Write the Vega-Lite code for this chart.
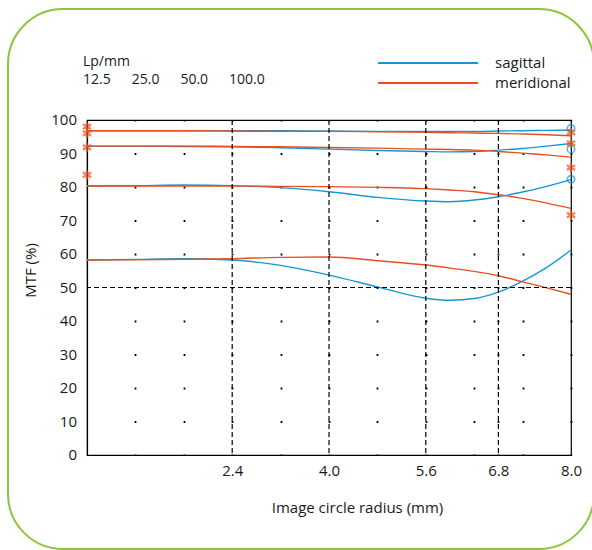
{
  "$schema": "https://vega.github.io/schema/vega-lite/v6.json",
  "width": 484,
  "height": 335,
  "autosize": {"type": "none"},
  "padding": {"left": 87, "top": 120, "right": 21, "bottom": 95},
  "background": "white",
  "config": {
    "font": "Open Sans",
    "view": {"stroke": "#000", "strokeWidth": 1.2},
    "axis": {"labelFont": "Open Sans", "titleFont": "Open Sans", "labelColor": "#1a1a1a", "titleColor": "#1a1a1a", "titleFontWeight": "normal", "labelFontSize": 15, "titleFontSize": 15, "domainColor": "#000", "domainWidth": 1.2, "ticks": false, "labelFlush": false}
  },
  "title": {
    "text": "Lp/mm",
    "subtitle": "12.5\u2003\u200225.0\u2003\u200250.0\u2003\u2002100.0",
    "anchor": "start",
    "frame": "group",
    "font": "Open Sans",
    "subtitleFont": "Open Sans",
    "fontSize": 14,
    "subtitleFontSize": 14,
    "fontWeight": "normal",
    "color": "#1a1a1a",
    "subtitleColor": "#1a1a1a",
    "subtitlePadding": 4,
    "dx": -4,
    "dy": 82.5
  },
  "datasets": {
    "curves": [
      {"f": "12.5", "t": "sagittal", "x": 0, "y": 96.8}, {"f": "12.5", "t": "sagittal", "x": 0.8, "y": 96.8}, {"f": "12.5", "t": "sagittal", "x": 1.6, "y": 96.8}, {"f": "12.5", "t": "sagittal", "x": 2.4, "y": 96.8}, {"f": "12.5", "t": "sagittal", "x": 3.2, "y": 96.8}, {"f": "12.5", "t": "sagittal", "x": 4.0, "y": 96.7}, {"f": "12.5", "t": "sagittal", "x": 4.8, "y": 96.6}, {"f": "12.5", "t": "sagittal", "x": 5.6, "y": 96.6}, {"f": "12.5", "t": "sagittal", "x": 6.0, "y": 96.6}, {"f": "12.5", "t": "sagittal", "x": 6.4, "y": 96.6}, {"f": "12.5", "t": "sagittal", "x": 6.8, "y": 96.7}, {"f": "12.5", "t": "sagittal", "x": 7.2, "y": 96.8}, {"f": "12.5", "t": "sagittal", "x": 7.6, "y": 96.9}, {"f": "12.5", "t": "sagittal", "x": 8.0, "y": 97.0},
      {"f": "12.5", "t": "meridional", "x": 0, "y": 96.8}, {"f": "12.5", "t": "meridional", "x": 0.8, "y": 96.8}, {"f": "12.5", "t": "meridional", "x": 1.6, "y": 96.8}, {"f": "12.5", "t": "meridional", "x": 2.4, "y": 96.7}, {"f": "12.5", "t": "meridional", "x": 3.2, "y": 96.6}, {"f": "12.5", "t": "meridional", "x": 4.0, "y": 96.6}, {"f": "12.5", "t": "meridional", "x": 4.8, "y": 96.5}, {"f": "12.5", "t": "meridional", "x": 5.6, "y": 96.3}, {"f": "12.5", "t": "meridional", "x": 6.0, "y": 96.2}, {"f": "12.5", "t": "meridional", "x": 6.4, "y": 96.1}, {"f": "12.5", "t": "meridional", "x": 6.8, "y": 96.0}, {"f": "12.5", "t": "meridional", "x": 7.2, "y": 95.8}, {"f": "12.5", "t": "meridional", "x": 7.6, "y": 95.6}, {"f": "12.5", "t": "meridional", "x": 8.0, "y": 95.3},
      {"f": "25.0", "t": "sagittal", "x": 0, "y": 92.2}, {"f": "25.0", "t": "sagittal", "x": 0.8, "y": 92.2}, {"f": "25.0", "t": "sagittal", "x": 1.6, "y": 92.1}, {"f": "25.0", "t": "sagittal", "x": 2.4, "y": 92.0}, {"f": "25.0", "t": "sagittal", "x": 3.2, "y": 91.7}, {"f": "25.0", "t": "sagittal", "x": 4.0, "y": 91.3}, {"f": "25.0", "t": "sagittal", "x": 4.8, "y": 90.9}, {"f": "25.0", "t": "sagittal", "x": 5.6, "y": 90.6}, {"f": "25.0", "t": "sagittal", "x": 6.0, "y": 90.5}, {"f": "25.0", "t": "sagittal", "x": 6.4, "y": 90.6}, {"f": "25.0", "t": "sagittal", "x": 6.8, "y": 91.0}, {"f": "25.0", "t": "sagittal", "x": 7.2, "y": 91.5}, {"f": "25.0", "t": "sagittal", "x": 7.6, "y": 92.2}, {"f": "25.0", "t": "sagittal", "x": 8.0, "y": 93.0},
      {"f": "25.0", "t": "meridional", "x": 0, "y": 92.2}, {"f": "25.0", "t": "meridional", "x": 0.8, "y": 92.2}, {"f": "25.0", "t": "meridional", "x": 1.6, "y": 92.2}, {"f": "25.0", "t": "meridional", "x": 2.4, "y": 92.1}, {"f": "25.0", "t": "meridional", "x": 3.2, "y": 92.0}, {"f": "25.0", "t": "meridional", "x": 4.0, "y": 91.8}, {"f": "25.0", "t": "meridional", "x": 4.8, "y": 91.6}, {"f": "25.0", "t": "meridional", "x": 5.6, "y": 91.3}, {"f": "25.0", "t": "meridional", "x": 6.0, "y": 91.2}, {"f": "25.0", "t": "meridional", "x": 6.4, "y": 91.0}, {"f": "25.0", "t": "meridional", "x": 6.8, "y": 90.6}, {"f": "25.0", "t": "meridional", "x": 7.2, "y": 90.1}, {"f": "25.0", "t": "meridional", "x": 7.6, "y": 89.6}, {"f": "25.0", "t": "meridional", "x": 8.0, "y": 88.9},
      {"f": "50.0", "t": "sagittal", "x": 0, "y": 80.3}, {"f": "50.0", "t": "sagittal", "x": 0.8, "y": 80.4}, {"f": "50.0", "t": "sagittal", "x": 1.6, "y": 80.6}, {"f": "50.0", "t": "sagittal", "x": 2.4, "y": 80.4}, {"f": "50.0", "t": "sagittal", "x": 3.2, "y": 79.8}, {"f": "50.0", "t": "sagittal", "x": 4.0, "y": 78.6}, {"f": "50.0", "t": "sagittal", "x": 4.8, "y": 76.9}, {"f": "50.0", "t": "sagittal", "x": 5.6, "y": 75.8}, {"f": "50.0", "t": "sagittal", "x": 6.0, "y": 75.6}, {"f": "50.0", "t": "sagittal", "x": 6.4, "y": 76.1}, {"f": "50.0", "t": "sagittal", "x": 6.8, "y": 77.1}, {"f": "50.0", "t": "sagittal", "x": 7.2, "y": 78.5}, {"f": "50.0", "t": "sagittal", "x": 7.6, "y": 80.2}, {"f": "50.0", "t": "sagittal", "x": 8.0, "y": 82.2},
      {"f": "50.0", "t": "meridional", "x": 0, "y": 80.3}, {"f": "50.0", "t": "meridional", "x": 0.8, "y": 80.3}, {"f": "50.0", "t": "meridional", "x": 1.6, "y": 80.3}, {"f": "50.0", "t": "meridional", "x": 2.4, "y": 80.3}, {"f": "50.0", "t": "meridional", "x": 3.2, "y": 80.2}, {"f": "50.0", "t": "meridional", "x": 4.0, "y": 80.1}, {"f": "50.0", "t": "meridional", "x": 4.8, "y": 79.9}, {"f": "50.0", "t": "meridional", "x": 5.6, "y": 79.5}, {"f": "50.0", "t": "meridional", "x": 6.0, "y": 79.1}, {"f": "50.0", "t": "meridional", "x": 6.4, "y": 78.6}, {"f": "50.0", "t": "meridional", "x": 6.8, "y": 77.7}, {"f": "50.0", "t": "meridional", "x": 7.2, "y": 76.6}, {"f": "50.0", "t": "meridional", "x": 7.6, "y": 75.2}, {"f": "50.0", "t": "meridional", "x": 8.0, "y": 73.6},
      {"f": "100.0", "t": "sagittal", "x": 0, "y": 58.2}, {"f": "100.0", "t": "sagittal", "x": 0.8, "y": 58.4}, {"f": "100.0", "t": "sagittal", "x": 1.6, "y": 58.6}, {"f": "100.0", "t": "sagittal", "x": 2.4, "y": 58.2}, {"f": "100.0", "t": "sagittal", "x": 3.2, "y": 56.6}, {"f": "100.0", "t": "sagittal", "x": 4.0, "y": 53.7}, {"f": "100.0", "t": "sagittal", "x": 4.8, "y": 50.2}, {"f": "100.0", "t": "sagittal", "x": 5.6, "y": 46.8}, {"f": "100.0", "t": "sagittal", "x": 6.0, "y": 46.2}, {"f": "100.0", "t": "sagittal", "x": 6.4, "y": 46.7}, {"f": "100.0", "t": "sagittal", "x": 6.8, "y": 48.6}, {"f": "100.0", "t": "sagittal", "x": 7.2, "y": 51.9}, {"f": "100.0", "t": "sagittal", "x": 7.6, "y": 56.0}, {"f": "100.0", "t": "sagittal", "x": 8.0, "y": 61.2},
      {"f": "100.0", "t": "meridional", "x": 0, "y": 58.2}, {"f": "100.0", "t": "meridional", "x": 0.8, "y": 58.3}, {"f": "100.0", "t": "meridional", "x": 1.6, "y": 58.4}, {"f": "100.0", "t": "meridional", "x": 2.4, "y": 58.6}, {"f": "100.0", "t": "meridional", "x": 3.2, "y": 59.0}, {"f": "100.0", "t": "meridional", "x": 4.0, "y": 59.1}, {"f": "100.0", "t": "meridional", "x": 4.8, "y": 58.0}, {"f": "100.0", "t": "meridional", "x": 5.6, "y": 56.7}, {"f": "100.0", "t": "meridional", "x": 6.0, "y": 55.8}, {"f": "100.0", "t": "meridional", "x": 6.4, "y": 54.8}, {"f": "100.0", "t": "meridional", "x": 6.8, "y": 53.5}, {"f": "100.0", "t": "meridional", "x": 7.2, "y": 51.7}, {"f": "100.0", "t": "meridional", "x": 7.6, "y": 49.9}, {"f": "100.0", "t": "meridional", "x": 8.0, "y": 48.0}
    ],
    "stars": [
      {"x": 0, "y": 98.0}, {"x": 0, "y": 96.0}, {"x": 0, "y": 91.8}, {"x": 0, "y": 83.6},
      {"x": 8, "y": 96.3}, {"x": 8, "y": 93.0}, {"x": 8, "y": 85.8}, {"x": 8, "y": 71.6}
    ],
    "circles": [
      {"x": 8, "y": 97.5}, {"x": 8, "y": 91.3}, {"x": 8, "y": 82.3}
    ],
    "yticks": [{"v": 0}, {"v": 10}, {"v": 20}, {"v": 30}, {"v": 40}, {"v": 50}, {"v": 60}, {"v": 70}, {"v": 80}, {"v": 90}, {"v": 100}],
    "vlines": [{"x": 2.4}, {"x": 4.0}, {"x": 5.6}, {"x": 6.8}],
    "hlines": [{"y": 50}]
  },
  "layer": [
    {
      "data": {"name": "curves"},
      "transform": [{"filter": "datum.t == 'sagittal'"}],
      "mark": {"type": "line", "interpolate": "monotone", "strokeWidth": 1.4},
      "encoding": {
        "x": {
          "field": "x", "type": "quantitative",
          "scale": {"domain": [0, 8], "nice": false, "zero": false},
          "axis": {
            "title": "Image circle radius (mm)",
            "values": [0.8, 1.6, 2.4, 3.2, 4.0, 4.8, 5.6, 6.4, 6.8, 7.2, 8.0],
            "labelExpr": "(datum.value == 2.4 || datum.value == 4 || datum.value == 5.6 || datum.value == 6.8 || datum.value == 8) ? format(datum.value, '.1f') : ''",
            "labelOverlap": false,
            "grid": true, "gridColor": "#000", "gridWidth": 1.8, "gridDash": [1.8, 31.7], "gridDashOffset": 0.9, "gridOpacity": 1,
            "labelPadding": 8,
            "titleX": 270, "titleY": 52, "titleBaseline": "middle", "titleAlign": "center"
          }
        },
        "y": {
          "field": "y", "type": "quantitative",
          "scale": {"domain": [0, 100], "nice": false},
          "axis": {
            "title": "MTF (%)",
            "labels": false,
            "grid": false,
            "titleX": -57, "titleY": 150, "titleBaseline": "middle", "titleAlign": "center", "titleAngle": -90
          }
        },
        "color": {
          "field": "t", "type": "nominal",
          "scale": {"domain": ["sagittal", "meridional"], "range": ["#1796d4", "#e9501e"]},
          "legend": {
            "orient": "none", "legendX": 331, "legendY": -67, "title": null,
            "symbolType": "M-5.556,0H5.556", "symbolSize": 324, "symbolStrokeWidth": 2,
            "labelFontSize": 15, "labelFont": "Open Sans", "labelColor": "#1a1a1a", "labelOffset": 57,
            "rowPadding": 2, "padding": 0
          }
        },
        "detail": {"field": "f", "type": "nominal"}
      }
    },
    {
      "data": {"name": "curves"},
      "transform": [{"filter": "datum.t == 'meridional'"}],
      "mark": {"type": "line", "interpolate": "monotone", "strokeWidth": 1.4},
      "encoding": {
        "x": {"field": "x", "type": "quantitative"},
        "y": {"field": "y", "type": "quantitative"},
        "color": {"field": "t", "type": "nominal"},
        "detail": {"field": "f", "type": "nominal"}
      }
    },
    {
      "data": {"name": "vlines"},
      "mark": {"type": "rule", "color": "#000", "strokeWidth": 1.2, "strokeDash": [5, 3]},
      "encoding": {
        "x": {"field": "x", "type": "quantitative"}
      }
    },
    {
      "data": {"name": "hlines"},
      "mark": {"type": "rule", "color": "#000", "strokeWidth": 1.2, "strokeDash": [5, 3]},
      "encoding": {
        "y": {"field": "y", "type": "quantitative"}
      }
    },
    {
      "data": {"name": "yticks"},
      "mark": {"type": "text", "align": "right", "baseline": "middle", "dx": -10, "font": "Open Sans", "fontSize": 15, "color": "#1a1a1a"},
      "encoding": {
        "x": {"datum": 0, "type": "quantitative"},
        "y": {"field": "v", "type": "quantitative"},
        "text": {"field": "v", "type": "quantitative", "format": "d"}
      }
    },
    {
      "data": {"name": "circles"},
      "mark": {"type": "point", "shape": "circle", "filled": false, "stroke": "#1796d4", "strokeWidth": 1.6, "size": 55},
      "encoding": {
        "x": {"field": "x", "type": "quantitative"},
        "y": {"field": "y", "type": "quantitative"}
      }
    },
    {
      "data": {"name": "stars"},
      "mark": {"type": "point", "shape": "M0,-1L0,1M-0.87,-0.5L0.87,0.5M-0.87,0.5L0.87,-0.5", "filled": false, "stroke": "#e9501e", "strokeWidth": 2.3, "size": 90},
      "encoding": {
        "x": {"field": "x", "type": "quantitative"},
        "y": {"field": "y", "type": "quantitative"}
      }
    },
    {
      "data": {"values": [{}]},
      "mark": {"type": "rect", "filled": false, "stroke": "#8cc63f", "strokeWidth": 2, "cornerRadius": 55},
      "encoding": {
        "x": {"datum": -1.306, "type": "quantitative"},
        "x2": {"datum": 8.38},
        "y": {"datum": 133.1, "type": "quantitative"},
        "y2": {"datum": -28.06}
      }
    }
  ]
}
